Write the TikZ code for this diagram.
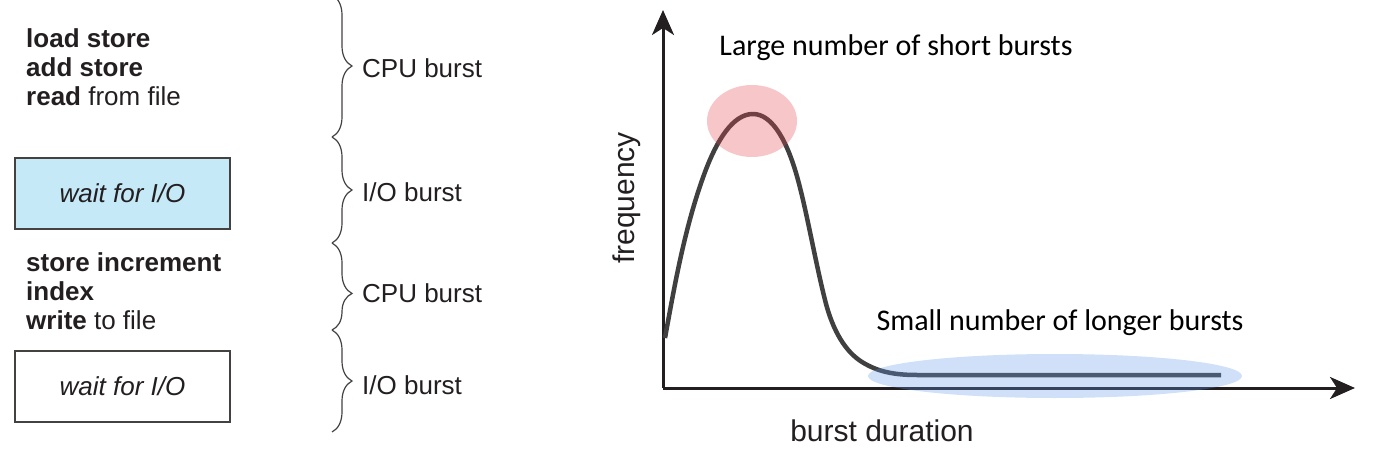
\documentclass[tikz,border=0pt]{standalone}
\usepackage{fontspec}
\setmainfont{Liberation Sans}
\newfontfamily\calibri{Carlito}
\usetikzlibrary{arrows.meta,decorations.pathreplacing}

\definecolor{inkgray}{HTML}{231F20}
\definecolor{curvegray}{HTML}{404040}
\definecolor{waitblue}{HTML}{C6E9F8}
\definecolor{peakred}{RGB}{228,65,75}
\definecolor{tailblue}{RGB}{98,152,232}

\begin{document}
\begin{tikzpicture}[
    x=1pt, y=-1pt,
    >={Stealth[length=25pt,width=22pt,inset=7pt]},
    code/.style={
        anchor=west,
        inner sep=0pt,
        align=left,
        text=inkgray,
        font=\fontsize{26}{29}\selectfont
    },
    waitbox/.style={
        draw=inkgray!85,
        line width=1.3pt,
        minimum width=215pt,
        minimum height=71pt,
        text=inkgray,
        font=\fontsize{26}{29}\selectfont\itshape
    },
    burst/.style={
        draw=inkgray!85,
        line width=1.2pt,
        decorate,
        decoration={brace, amplitude=20pt}
    },
    burstlabel/.style={
        anchor=west,
        inner sep=0pt,
        text=inkgray,
        font=\fontsize{26}{29}\selectfont
    },
    axis/.style={
        ->,
        draw=inkgray,
        line width=3pt
    },
    note/.style={
        inner sep=0pt,
        font=\calibri\fontsize{30}{34}\selectfont
    },
    axislabel/.style={
        inner sep=0pt,
        text=inkgray,
        font=\fontsize{30}{34}\selectfont
    }
]
    \useasboundingbox (0,0) rectangle (1373,457);

    % instruction stream
    \node[code] (cpuA) at (26,67)
        {\textbf{load store}\\\textbf{add store}\\\textbf{read} from file};
    \node[waitbox, fill=waitblue] (ioA) at (122.5,193.5) {wait for I/O};
    \node[code] (cpuB) at (26,291)
        {\textbf{store increment}\\\textbf{index}\\\textbf{write} to file};
    \node[waitbox, fill=white] (ioB) at (122.5,386.5) {wait for I/O};

    % bursts
    \coordinate (b0) at (332,-5);
    \coordinate (b1) at (332,137);
    \coordinate (b2) at (332,243);
    \coordinate (b3) at (332,330);
    \coordinate (b4) at (332,432);
    \draw[burst] (b0) -- (b1);
    \draw[burst] (b1) -- (b2);
    \draw[burst, decoration={aspect=0.58}] (b2) -- (b3);
    \draw[burst] (b3) -- (b4);
    \node[burstlabel] (lblA) at (362,68) {CPU burst};
    \node[burstlabel] (lblB) at (362,192) {I/O burst};
    \node[burstlabel] (lblC) at (362,293) {CPU burst};
    \node[burstlabel] (lblD) at (362,385) {I/O burst};

    % histogram
    \coordinate (origin) at (663,388);
    \coordinate (ytop) at (663,10);
    \coordinate (xend) at (1355,388);
    \draw[axis] (origin) -- (ytop);
    \draw[axis] (origin) -- (xend);

    \draw[curvegray, line width=4.5pt, line join=round]
        (665,338) .. controls (675,283) and (685,226) .. (705,172)
        .. controls (717,140) and (733,114) .. (753,114)
        .. controls (773,114) and (788,143) .. (798,180)
        .. controls (807,213) and (815,260) .. (825,300)
        .. controls (833,332) and (846,352) .. (862,362)
        .. controls (878,372) and (895,375) .. (917,375)
        -- (1221,375);

    \fill[peakred, fill opacity=0.3] (752,121) ellipse [x radius=45, y radius=36];
    \fill[tailblue, fill opacity=0.3] (1055,376) ellipse [x radius=187, y radius=22];

    \node[note] (short) at (896,48) {Large number of short bursts};
    \node[note] (long) at (1060,323) {Small number of longer bursts};
    \node[axislabel, rotate=90] (freq) at (627,198) {frequency};
    \node[axislabel, anchor=base] (dur) at (882,441) {burst duration};
\end{tikzpicture}
\end{document}
